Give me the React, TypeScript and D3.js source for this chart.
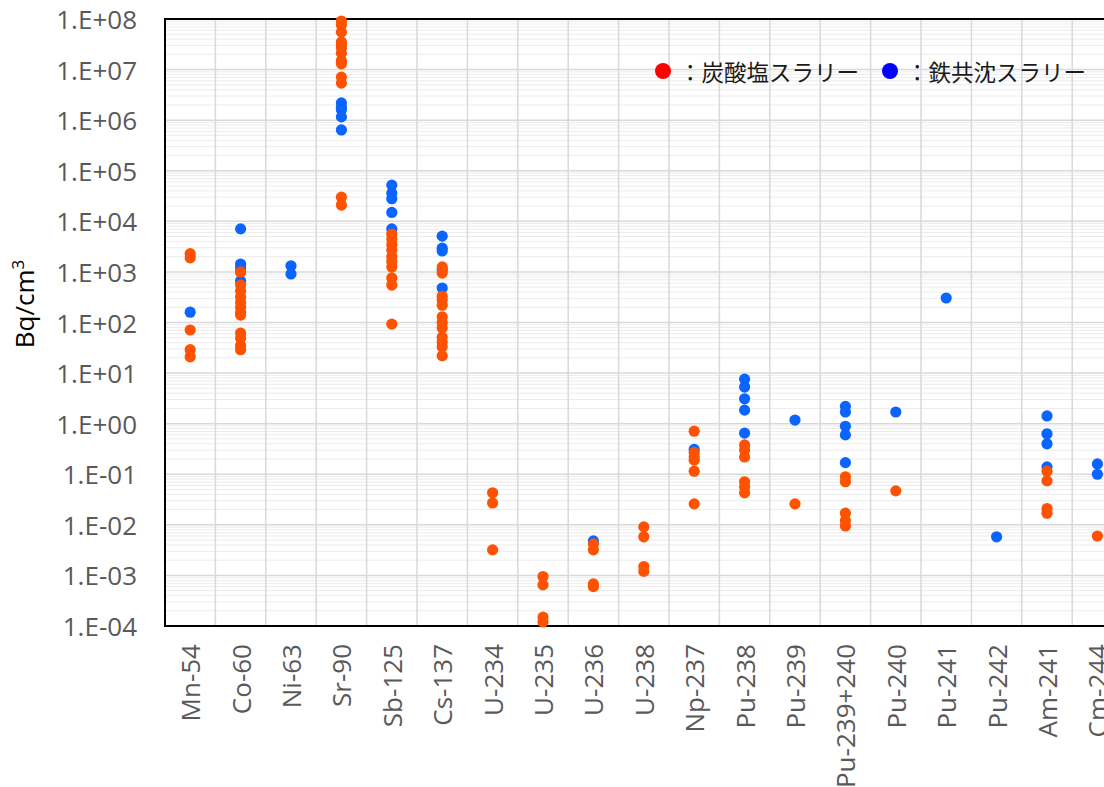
import React from "react";
import * as d3 from "d3";

const categories = [
  "Mn-54", "Co-60", "Ni-63", "Sr-90", "Sb-125", "Cs-137", "U-234", "U-235", "U-236", "U-238",
  "Np-237", "Pu-238", "Pu-239", "Pu-239+240", "Pu-240", "Pu-241", "Pu-242", "Am-241", "Cm-244",
];

// 炭酸塩スラリー (orange) values per category, Bq/cm3
const carbonateSlurry: number[][] = [
  [2300, 1900, 71, 29, 21],
  [1000, 550, 420, 320, 250, 200, 160, 140, 62, 49, 35, 29],
  [],
  [9.1e7, 7.6e7, 5.5e7, 3.5e7, 3.1e7, 2.7e7, 2.1e7, 1.5e7, 1.3e7, 7.1e6, 5.4e6, 3.0e4, 2.1e4],
  [5600, 4500, 3500, 2700, 2000, 1600, 1250, 760, 550, 93],
  [1260, 950, 330, 280, 220, 130, 100, 78, 51, 41, 33, 22],
  [0.043, 0.027, 0.0032],
  [0.00095, 0.00065, 0.00015, 0.00012],
  [0.0042, 0.0032, 0.00068, 0.0006],
  [0.0091, 0.0058, 0.0015, 0.0012],
  [0.71, 0.27, 0.22, 0.19, 0.115, 0.026],
  [0.38, 0.3, 0.22, 0.071, 0.056, 0.043],
  [0.026],
  [0.089, 0.071, 0.017, 0.012, 0.0095],
  [0.047],
  [],
  [],
  [0.115, 0.074, 0.021, 0.017],
  [0.006],
];

// 鉄共沈スラリー (blue) values per category, Bq/cm3
const ironSlurry: number[][] = [
  [160],
  [7100, 1430, 1190, 1000, 660],
  [1320, 910],
  [2.2e6, 1.8e6, 1.6e6, 1.16e6, 6.4e5],
  [5.2e4, 3.6e4, 2.8e4, 1.5e4, 7100],
  [5100, 2950, 2600, 1100, 480],
  [],
  [],
  [0.0048],
  [],
  [0.31],
  [7.6, 5.3, 3.1, 1.85, 0.65],
  [1.18],
  [2.2, 1.7, 0.89, 0.6, 0.17],
  [1.7],
  [305],
  [0.0058],
  [1.42, 0.63, 0.4, 0.14],
  [0.16, 0.1],
];

const yTickValues = [1e-4, 1e-3, 1e-2, 1e-1, 1e0, 1e1, 1e2, 1e3, 1e4, 1e5, 1e6, 1e7, 1e8];
const yTickLabels = [
  "1.E-04", "1.E-03", "1.E-02", "1.E-01", "1.E+00", "1.E+01", "1.E+02",
  "1.E+03", "1.E+04", "1.E+05", "1.E+06", "1.E+07", "1.E+08",
];

const legendItems = [
  { label: "：炭酸塩スラリー", color: "#FF0000" },
  { label: "：鉄共沈スラリー", color: "#0000FF" },
];

const W = 1104;
const H = 787;
const left = 165;
const top = 19;
const bottom = 626;
const bandW = 50.4;
const right = left + bandW * categories.length;

const ORANGE = "#FF5200";
const BLUE = "#0A64FF";

export default function App() {
  const x = d3.scaleBand<string>().domain(categories).range([left, right]).padding(0);
  const y = d3.scaleLog().domain([1e-4, 1e8]).range([bottom, top]);

  const minor: number[] = [];
  for (let e = -4; e < 8; e++) {
    for (let m = 2; m <= 9; m++) minor.push(m * Math.pow(10, e));
  }

  const font = "'Open Sans', 'Noto Sans', sans-serif";

  return (
    <svg
      width={W}
      height={H}
      style={{ position: "absolute", left: 0, top: 0, background: "#fff" }}
    >
      <rect x={0} y={0} width={W} height={H} fill="#fff" />
      {minor.map((v, i) => (
        <line key={"m" + i} x1={left} x2={right} y1={y(v)} y2={y(v)} stroke="#ececec" strokeWidth={1} />
      ))}
      {yTickValues.map((v, i) => (
        <line key={"g" + i} x1={left} x2={right} y1={y(v)} y2={y(v)} stroke="#d9d9d9" strokeWidth={1.5} />
      ))}
      {categories.map((c, i) => (
        <line
          key={"v" + i}
          x1={(x(c) as number) + bandW}
          x2={(x(c) as number) + bandW}
          y1={top}
          y2={bottom}
          stroke="#d9d9d9"
          strokeWidth={1.5}
        />
      ))}
      <rect x={left} y={top} width={right - left} height={bottom - top} fill="none" stroke="#000" strokeWidth={2} />

      {yTickValues.map((v, i) => (
        <text
          key={"yt" + i}
          x={137}
          y={y(v)}
          textAnchor="end"
          dominantBaseline="central"
          fontFamily={font}
          fontSize={26}
          fill="#595959"
        >
          {yTickLabels[i]}
        </text>
      ))}
      <text
        transform={`translate(34,304) rotate(-90)`}
        textAnchor="middle"
        fontFamily={font}
        fontSize={26}
        fill="#000"
      >
        Bq/cm<tspan dy={-10} fontSize={17}>3</tspan>
      </text>

      {categories.map((c, i) => (
        <text
          key={"xl" + i}
          transform={`translate(${(x(c) as number) + bandW / 2},644) rotate(-90)`}
          textAnchor="end"
          dominantBaseline="central"
          fontFamily={font}
          fontSize={26}
          fill="#595959"
        >
          {c}
        </text>
      ))}

      {ironSlurry.map((vals, i) =>
        vals.map((v, j) => (
          <circle
            key={`b${i}-${j}`}
            cx={(x(categories[i]) as number) + bandW / 2}
            cy={y(v)}
            r={5.6}
            fill={BLUE}
          />
        ))
      )}
      {carbonateSlurry.map((vals, i) =>
        vals.map((v, j) => (
          <circle
            key={`o${i}-${j}`}
            cx={(x(categories[i]) as number) + bandW / 2}
            cy={y(v)}
            r={5.6}
            fill={ORANGE}
          />
        ))
      )}

      {legendItems.map((d, i) => {
        const cx = i === 0 ? 663 : 890;
        return (
          <g key={"lg" + i}>
            <circle cx={cx} cy={71} r={8} fill={d.color} />
            <text
              x={cx + 16}
              y={71}
              dominantBaseline="central"
              fontFamily="'Noto Sans CJK JP', sans-serif"
              fontSize={22.5}
              fill="#1a1a1a"
            >
              {d.label}
            </text>
          </g>
        );
      })}
    </svg>
  );
}
